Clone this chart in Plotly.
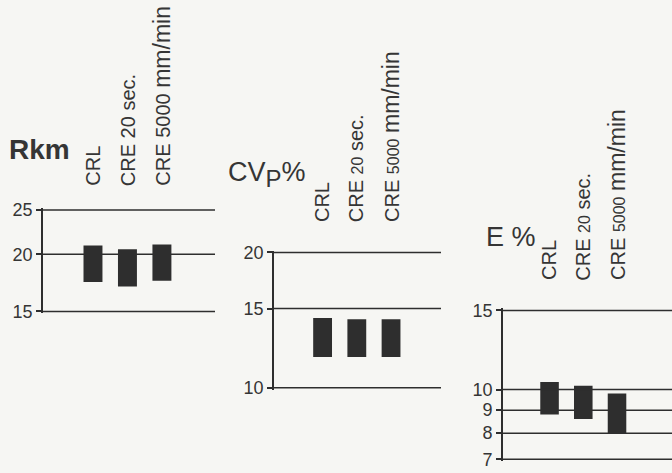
import math
import plotly.graph_objects as go

W, H = 672, 473

# ---------------- data ----------------
categories = ["CRL", "CRE 20 sec.", "CRE 5000 mm/min"]

rkm_low = [17.4, 17.0, 17.5]
rkm_high = [20.9, 20.5, 21.0]
rkm_ticks = [15, 20, 25]

cvp_low = [11.7, 11.7, 11.7]
cvp_high = [14.3, 14.2, 14.2]
cvp_ticks = [10, 15, 20]

e_low = [8.8, 8.6, 8.0]
e_high = [10.4, 10.2, 9.8]
e_ticks = [7, 8, 9, 10, 15]

# ---------------- style / layout ----------------
INK = "#2e2e2e"
TXT = "#353535"
BG = "#f6f6f3"
FONT = "Liberation Sans, Arial, sans-serif"
PAD = 2  # px of head-room so edge reference lines are not clipped


def fx(px):
    return px / W


def fy(py):
    return 1 - py / H


BIG = "<span style='font-size:23px'>mm/min</span>"
panels = [
    dict(low=rkm_low, high=rkm_high, ticks=rkm_ticks,
         xpx=(43, 215), ypx=(209, 314), xr=(-1.45, 3.54),
         labels=["CRL", "CRE 20 sec.", "CRE 5000 " + BIG],
         lab_bottom=186,
         title="<b>Rkm</b>", title_pos=(7, 165), title_size=28),
    dict(low=cvp_low, high=cvp_high, ticks=cvp_ticks,
         xpx=(274, 441), ypx=(253, 393), xr=(-1.42, 3.46),
         labels=["CRL", "CRE <span style='font-size:16px'>20</span> sec.",
                 "CRE <span style='font-size:16px'>5000</span> " + BIG],
         lab_bottom=224,
         title="CV<sub><span style='font-size:24px'>P</span></sub>%",
         title_pos=(226, 193), title_size=27),
    dict(low=e_low, high=e_high, ticks=e_ticks,
         xpx=(503, 672), ypx=(313, 467), xr=(-1.38, 3.63),
         labels=["CRL", "CRE <span style='font-size:16px'>20</span> sec.",
                 "CRE <span style='font-size:16px'>5000</span> " + BIG],
         lab_bottom=284,
         title="E %", title_pos=(484, 255), title_size=27),
]

fig = go.Figure()
layout = dict(
    width=W, height=H,
    margin=dict(l=0, r=0, t=0, b=0),
    paper_bgcolor=BG, plot_bgcolor="rgba(0,0,0,0)",
    showlegend=False,
    font=dict(family=FONT, color=TXT),
    annotations=[], shapes=[],
)

for i, p in enumerate(panels):
    n = "" if i == 0 else str(i + 1)
    xa, ya = "x" + n, "y" + n
    xpos = list(range(len(categories)))
    heights = [h - l for l, h in zip(p["low"], p["high"])]
    fig.add_trace(go.Bar(
        x=xpos, y=heights, base=p["low"], width=0.55,
        marker=dict(color=INK, line=dict(width=0)),
        xaxis=xa, yaxis=ya, hoverinfo="skip",
    ))
    lo, hi = min(p["ticks"]), max(p["ticks"])
    llo, lhi = math.log10(lo), math.log10(hi)
    y0px, y1px = p["ypx"]
    per_px = (lhi - llo) / (y1px - y0px)
    eps = PAD * per_px
    layout["xaxis" + n] = dict(
        domain=[fx(p["xpx"][0]), fx(p["xpx"][1])],
        range=list(p["xr"]), anchor=ya,
        showticklabels=False, showgrid=False, zeroline=False,
        showline=False, ticks="", fixedrange=True,
    )
    layout["yaxis" + n] = dict(
        domain=[fy(y1px + PAD), fy(y0px - PAD)],
        type="log", range=[llo - eps, lhi + eps],
        anchor=xa, tickmode="array", tickvals=p["ticks"],
        ticktext=[str(t) for t in p["ticks"]],
        ticks="outside", ticklen=5, tickwidth=1.5, tickcolor=INK,
        showline=True, linewidth=1.6, linecolor=INK,
        showgrid=False, zeroline=False,
        tickfont=dict(size=18, color=TXT, family=FONT),
        fixedrange=True,
    )
    # horizontal reference lines at every tick value
    for t in p["ticks"]:
        layout["shapes"].append(dict(
            type="line", xref=xa + " domain", x0=0, x1=1,
            yref=ya, y0=t, y1=t,
            line=dict(color=INK, width=1.5), layer="above",
        ))
    # rotated category labels
    for j, lab in enumerate(p["labels"]):
        layout["annotations"].append(dict(
            text=lab, x=j, xref=xa, y=fy(p["lab_bottom"]), yref="paper",
            textangle=-90, xanchor="center", yanchor="bottom",
            showarrow=False, font=dict(size=20, color=TXT, family=FONT),
        ))
    # panel title
    tx, ty = p["title_pos"]
    layout["annotations"].append(dict(
        text=p["title"], x=fx(tx), y=fy(ty), xref="paper", yref="paper",
        xanchor="left", yanchor="bottom", showarrow=False,
        font=dict(size=p["title_size"], color=TXT, family=FONT),
    ))

fig.update_layout(**layout)
fig.write_html("out.html")
